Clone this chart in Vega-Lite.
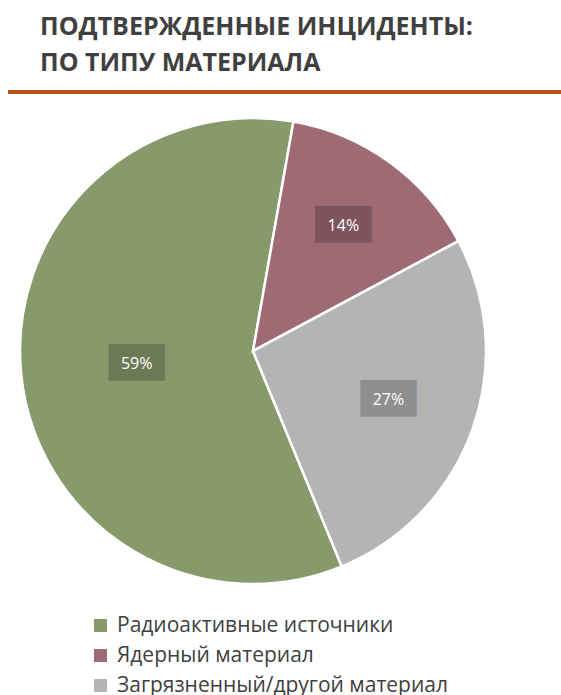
{
  "$schema": "https://vega.github.io/schema/vega-lite/v6.json",
  "padding": {"left": 6, "top": 15, "right": 0, "bottom": 0},
  "background": "white",
  "config": {
    "view": {"stroke": null},
    "legend": {
      "orient": "none",
      "legendX": 82,
      "legendY": 524,
      "symbolType": "square",
      "symbolSize": 169,
      "symbolStrokeWidth": 0,
      "labelFont": "Open Sans",
      "labelFontSize": 21,
      "labelColor": "#404040",
      "labelLimit": 600,
      "rowPadding": 8,
      "labelOffset": 6
    }
  },
  "title": {
    "text": ["ПОДТВЕРЖДЕННЫЕ ИНЦИДЕНТЫ:", "ПО ТИПУ МАТЕРИАЛА"],
    "anchor": "start",
    "frame": "group",
    "font": "Open Sans",
    "fontWeight": "bold",
    "fontSize": 25,
    "lineHeight": 36,
    "color": "#404040",
    "dx": 32,
    "offset": 14
  },
  "data": {
    "values": [
      {"category": "Радиоактивные источники", "share": 0.59, "idx": 1},
      {"category": "Ядерный материал", "share": 0.144, "idx": 2},
      {"category": "Загрязненный/другой материал", "share": 0.266, "idx": 3}
    ]
  },
  "spacing": 19,
  "vconcat": [
    {
      "width": 555,
      "height": 1,
      "mark": {"type": "rule", "color": "#b5541c", "strokeWidth": 4},
      "encoding": {
        "y": {"datum": 0, "type": "quantitative", "axis": null, "scale": {"domain": [0, 1]}}
      }
    },
    {
      "width": 490,
      "height": 472,
      "encoding": {
        "theta": {
          "field": "share",
          "type": "quantitative",
          "stack": true,
          "scale": {"range": [2.7507, 9.0339]}
        },
        "order": {"field": "idx", "type": "quantitative"}
      },
      "layer": [
        {
          "mark": {"type": "arc", "outerRadius": 233, "stroke": "white", "strokeWidth": 2.5},
          "encoding": {
            "color": {
              "field": "category",
              "type": "nominal",
              "title": null,
              "scale": {
                "domain": ["Радиоактивные источники", "Ядерный материал", "Загрязненный/другой материал"],
                "range": ["#879a6b", "#9e6a73", "#b4b4b4"]
              }
            }
          }
        },
        {
          "mark": {"type": "text", "text": "███", "font": "DejaVu Sans Mono", "fontSize": 31, "fill": "#000000", "opacity": 0.2, "baseline": "middle", "align": "center"},
          "encoding": {
            "radius": {"field": "share", "type": "quantitative", "scale": {"type": "linear", "zero": false, "domain": [0.144, 0.59], "range": [154, 117]}}
          }
        },
        {
          "mark": {"type": "text", "font": "Open Sans", "fontSize": 16, "fill": "white", "baseline": "middle", "align": "center"},
          "encoding": {
            "radius": {"field": "share", "type": "quantitative", "scale": {"type": "linear", "zero": false, "domain": [0.144, 0.59], "range": [154, 117]}},
            "text": {"field": "share", "type": "quantitative", "format": ".0%"}
          }
        }
      ]
    }
  ]
}
